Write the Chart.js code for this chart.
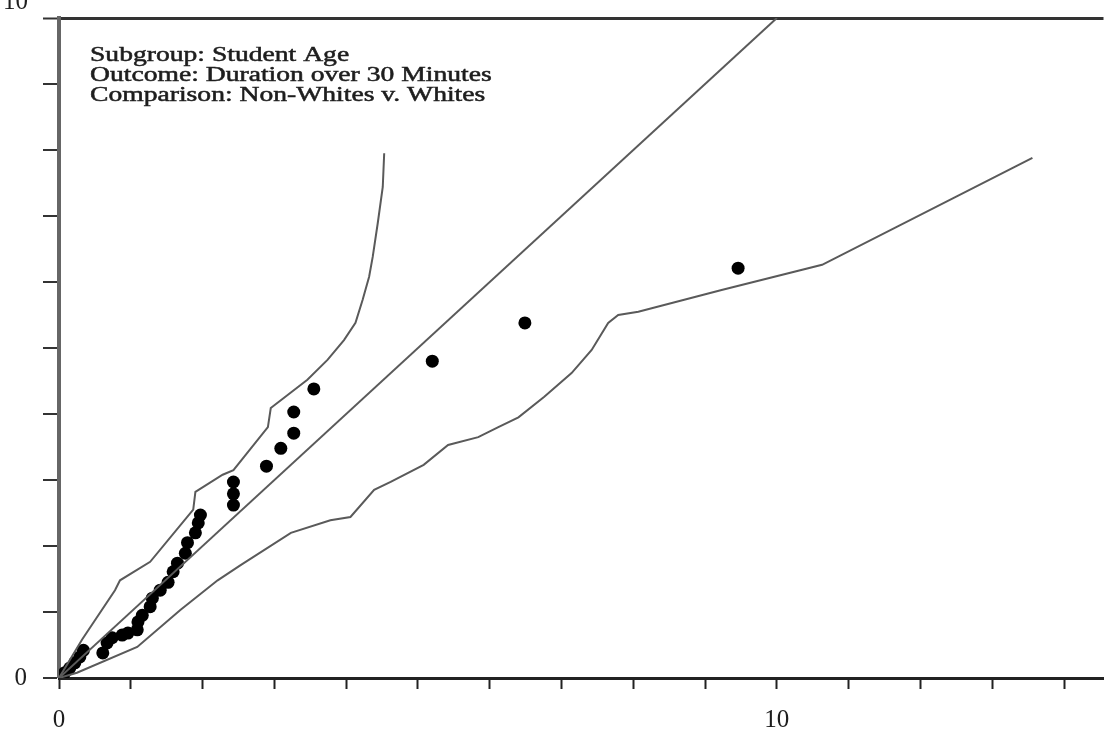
<!DOCTYPE html>
<html>
<head>
<meta charset="utf-8">
<script src="https://cdn.jsdelivr.net/npm/chart.js@4.4.1/dist/chart.umd.min.js"></script>
<style>
  html, body { margin: 0; padding: 0; background: #fff; }
  #c { display: block; }
</style>
</head>
<body>
<canvas id="c" width="1110" height="732"></canvas>
<script>
// observed points (non-whites v. whites)
const obsX = [0.04, 0.08, 0.15, 0.22, 0.29, 0.34, 0.61, 0.67, 0.74, 0.88, 0.96, 1.09, 1.10, 1.16, 1.27, 1.30, 1.41, 1.52, 1.59, 1.65, 1.76, 1.79, 1.90, 1.94, 1.97, 2.43, 2.43, 2.43, 2.89, 3.09, 3.27, 3.27, 3.55, 5.20, 6.49, 9.46];
const obsY = [0.02, 0.08, 0.15, 0.23, 0.32, 0.42, 0.38, 0.53, 0.61, 0.65, 0.68, 0.73, 0.85, 0.95, 1.08, 1.21, 1.33, 1.45, 1.61, 1.74, 1.89, 2.05, 2.20, 2.35, 2.47, 2.62, 2.79, 2.97, 3.21, 3.48, 3.71, 4.03, 4.38, 4.80, 5.38, 6.21];

// upper envelope
const upX = [0, 0.32, 0.78, 0.85, 1.27, 1.87, 1.90, 2.28, 2.43, 2.91, 2.95, 3.46, 3.74, 3.97, 4.13, 4.23, 4.32, 4.37, 4.44, 4.51, 4.53];
const upY = [0, 0.58, 1.33, 1.48, 1.76, 2.55, 2.82, 3.08, 3.15, 3.80, 4.09, 4.52, 4.82, 5.12, 5.38, 5.73, 6.08, 6.38, 6.89, 7.44, 7.95];

// lower envelope
const loX = [0, 0.25, 1.09, 1.69, 2.21, 2.53, 3.23, 3.78, 4.06, 4.39, 4.62, 5.08, 5.42, 5.84, 6.12, 6.40, 6.76, 7.14, 7.42, 7.65, 7.79, 8.07, 9.23, 10.63, 13.56];
const loY = [0, 0.08, 0.47, 1.03, 1.48, 1.71, 2.20, 2.39, 2.44, 2.85, 2.97, 3.23, 3.53, 3.65, 3.80, 3.95, 4.26, 4.62, 4.97, 5.38, 5.50, 5.55, 5.88, 6.26, 7.88];

// reference line y = x
const diagX = [0, 10];
const diagY = [0, 10];

const xLabels = { 0: '0', 10: '10' };
const yLabels = { 0: '0' };
const notes = ['Subgroup: Student Age', 'Outcome: Duration over 30 Minutes', 'Comparison: Non-Whites v. Whites'];

const pts = (xs, ys) => xs.map((x, i) => ({ x, y: ys[i] }));
const LINE = '#5a5a5a';
const INK = '#1e1e1e';
const serif = 'Liberation Serif, Times New Roman, serif';

// no extra label padding around the plot, like the scan
const noPad = s => { s.paddingLeft = 0; s.paddingRight = 0; s.paddingTop = 0; s.paddingBottom = 0; };

const annot = {
  id: 'annot',
  afterDraw(chart) {
    const { ctx, chartArea: a, scales: { y } } = chart;
    ctx.save();
    ctx.fillStyle = INK;
    // top y label, half cut off like the scan
    ctx.font = '25px ' + serif;
    ctx.textAlign = 'right'; ctx.textBaseline = 'middle';
    ctx.fillText('10', 28, y.getPixelForValue(10) - 16);
    // notes text
    ctx.font = '20px ' + serif;
    ctx.strokeStyle = INK; ctx.lineWidth = 0.5;
    ctx.textAlign = 'left'; ctx.textBaseline = 'alphabetic';
    notes.forEach((t, i) => {
      ctx.save();
      ctx.translate(a.left + 31, a.top + 43 + i * 20);
      ctx.scale(1.38, 1);
      ctx.fillText(t, 0, 0);
      ctx.strokeText(t, 0, 0);
      ctx.restore();
    });
    ctx.restore();
  }
};

new Chart(document.getElementById('c'), {
  type: 'scatter',
  data: {
    datasets: [
      { data: pts(diagX, diagY), showLine: true, borderColor: LINE, borderWidth: 2, pointRadius: 0 },
      { data: pts(upX, upY), showLine: true, borderColor: LINE, borderWidth: 2, pointRadius: 0 },
      { data: pts(loX, loY), showLine: true, borderColor: LINE, borderWidth: 2, pointRadius: 0 },
      { data: pts(obsX, obsY), showLine: false, pointRadius: 6.5, pointBackgroundColor: '#000', pointBorderColor: '#000', borderWidth: 0 }
    ]
  },
  options: {
    animation: false,
    responsive: false,
    maintainAspectRatio: false,
    layout: { padding: { top: 18, right: 0, left: 0, bottom: 0 } },
    plugins: { legend: { display: false }, tooltip: { enabled: false } },
    scales: {
      x: {
        type: 'linear', min: 0, max: 14.55,
        afterFit: s => { s.height = 54; noPad(s); },
        border: { display: true, color: '#222', width: 3 },
        grid: { drawOnChartArea: false, tickLength: 11, tickColor: '#222', tickWidth: 2 },
        ticks: {
          stepSize: 1, autoSkip: false, includeBounds: false, padding: 16, color: INK,
          font: { family: serif, size: 25 },
          callback: v => xLabels[v] || ''
        }
      },
      y: {
        type: 'linear', min: 0, max: 10,
        afterFit: s => { s.width = 59; noPad(s); },
        border: { display: true, color: '#666', width: 4 },
        grid: {
          drawOnChartArea: true, tickLength: 16, tickColor: '#333', tickWidth: 2,
          color: c => c.tick && c.tick.value === 10 ? '#333' : 'transparent',
          lineWidth: c => c.tick && c.tick.value === 10 ? 3 : 0
        },
        ticks: {
          stepSize: 1, autoSkip: false, padding: 16, color: INK,
          font: { family: serif, size: 25 },
          callback: v => yLabels[v] || ''
        }
      }
    }
  },
  plugins: [annot]
});
</script>
</body>
</html>
